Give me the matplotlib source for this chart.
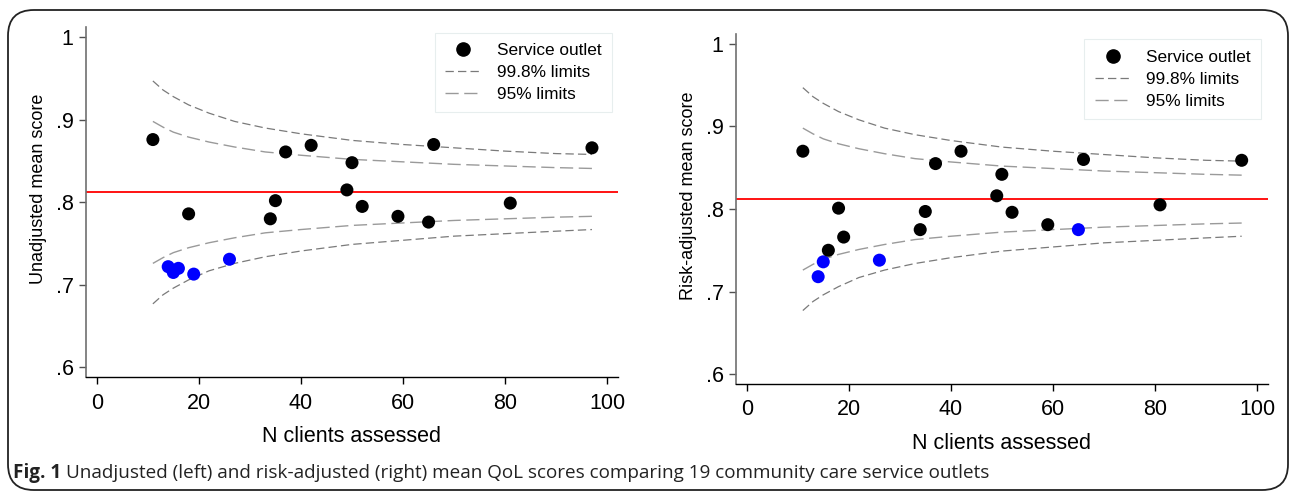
import matplotlib.pyplot as plt
from matplotlib.lines import Line2D
from matplotlib.patches import FancyBboxPatch

# outlets: number of clients assessed and mean QoL scores
n_clients = [11, 14, 15, 16, 18, 19, 26, 34, 35, 37, 42, 49, 50, 52, 59, 65, 66, 81, 97]
unadj_score = [0.876, 0.722, 0.715, 0.720, 0.786, 0.713, 0.731, 0.780, 0.802, 0.861,
               0.869, 0.815, 0.848, 0.795, 0.783, 0.776, 0.870, 0.799, 0.866]
unadj_flag = [0, 1, 1, 1, 0, 1, 1, 0, 0, 0, 0, 0, 0, 0, 0, 0, 0, 0, 0]
risk_score = [0.870, 0.718, 0.736, 0.750, 0.801, 0.766, 0.738, 0.775, 0.797, 0.855,
              0.870, 0.816, 0.842, 0.796, 0.781, 0.775, 0.860, 0.805, 0.859]
risk_flag = [0, 1, 1, 0, 0, 0, 1, 0, 0, 0, 0, 0, 0, 0, 0, 1, 0, 0, 0]
overall_mean = 0.812

# funnel limits
limit_n = [11, 13, 15, 18, 22, 27, 33, 40, 50, 60, 70, 80, 90, 97]
upper_998 = [0.947, 0.936, 0.928, 0.918, 0.908, 0.898, 0.890, 0.883, 0.875, 0.870, 0.866, 0.862, 0.859, 0.858]
lower_998 = [0.677, 0.688, 0.696, 0.706, 0.717, 0.726, 0.734, 0.741, 0.749, 0.754, 0.759, 0.762, 0.765, 0.767]
upper_95 = [0.898, 0.891, 0.885, 0.879, 0.873, 0.867, 0.861, 0.857, 0.852, 0.849, 0.846, 0.844, 0.842, 0.841]
lower_95 = [0.726, 0.733, 0.739, 0.745, 0.751, 0.757, 0.763, 0.767, 0.772, 0.775, 0.778, 0.780, 0.782, 0.783]

plt.rcParams['font.family'] = ['Liberation Sans', 'DejaVu Sans']
plt.rcParams['lines.scale_dashes'] = False

W, H = 1290, 492
fig = plt.figure(figsize=(W / 100, H / 100), dpi=100)

# rounded frame round the whole figure
frame = FancyBboxPatch((8 / W, 1 - 490 / H), (1288 - 8) / W, (490 - 10) / H,
                       boxstyle='round,pad=0,rounding_size=0.02', transform=fig.transFigure,
                       facecolor='none', edgecolor='#222222', linewidth=1.3,
                       mutation_aspect=W / H)
fig.patches.append(frame)


def px_axes(x0, y0, x1, y1):
    return fig.add_axes([x0 / W, 1 - y1 / H, (x1 - x0) / W, (y1 - y0) / H])


def draw_panel(ax, scores, flags, ylabel):
    c998 = '#7a7a7a'
    c95 = '#9a9a9a'
    d998 = (6, 3)
    d95 = (9.5, 4)
    ax.plot(limit_n, upper_998, color=c998, lw=0.9, dashes=d998)
    ax.plot(limit_n, lower_998, color=c998, lw=0.9, dashes=d998)
    ax.plot(limit_n, upper_95, color=c95, lw=1.0, dashes=d95)
    ax.plot(limit_n, lower_95, color=c95, lw=1.0, dashes=d95)
    ax.axhline(overall_mean, color='red', lw=1.3, zorder=2)
    colors = ['#0000ff' if f else 'black' for f in flags]
    ax.scatter(n_clients, scores, s=88, c=colors, linewidths=0, zorder=3)

    ax.set_xlim(-2.1, 102.1)
    ax.set_ylim(0.588, 1.012)
    ax.set_xticks([0, 20, 40, 60, 80, 100])
    ax.set_yticks([0.6, 0.7, 0.8, 0.9, 1.0])
    ax.set_yticklabels(['.6', '.7', '.8', '.9', '1'])
    for side in ['top', 'right']:
        ax.spines[side].set_visible(False)
    ax.spines['left'].set_color('#707070')
    ax.spines['left'].set_linewidth(1.2)
    ax.spines['bottom'].set_color('black')
    ax.spines['bottom'].set_linewidth(1.0)
    ax.tick_params(axis='y', length=5, width=1, color='#505050', labelsize=15.5, pad=4)
    ax.tick_params(axis='x', length=5, width=1, color='black', labelsize=15.5, pad=6)
    ax.set_xlabel('N clients assessed', fontsize=15.5, labelpad=9)
    ax.set_ylabel(ylabel, fontsize=13, va='center')
    ax.yaxis.set_label_coords(-0.090, 0.538)

    handles = [Line2D([], [], ls='none', marker='o', color='black', markersize=9.5),
               Line2D([], [], color=c998, lw=0.9, dashes=d998),
               Line2D([], [], color=c95, lw=1.0, dashes=d95)]
    leg = ax.legend(handles, ['Service outlet', '99.8% limits', '95% limits'],
                    loc='upper right', bbox_to_anchor=(0.988, 0.985), borderaxespad=0,
                    fontsize=12.4, frameon=True, fancybox=False, handlelength=2.1,
                    handletextpad=0.9, labelspacing=0.4, borderpad=0.6)
    leg.get_frame().set_edgecolor('#e2eaea')
    leg.get_frame().set_linewidth(0.8)


ax1 = px_axes(86, 27.3, 618, 377.3)
draw_panel(ax1, unadj_score, unadj_flag, 'Unadjusted mean score')
ax2 = px_axes(736, 34, 1267.7, 384)
draw_panel(ax2, risk_score, risk_flag, 'Risk-adjusted mean score')

# caption: bold figure number followed by the regular text
renderer = fig.canvas.get_renderer()
cap_y = 1 - 473 / H
t1 = fig.text(13 / W, cap_y, 'Fig. 1', fontsize=13.6, fontweight='bold',
              family=['Open Sans', 'DejaVu Sans'], va='center', color='#222222')
bb = t1.get_window_extent(renderer)
fig.text(bb.x1 / W + 5 / W, cap_y,
         'Unadjusted (left) and risk-adjusted (right) mean QoL scores comparing 19 community care service outlets',
         fontsize=13.6, family=['Open Sans', 'DejaVu Sans'], va='center', color='#222222')

fig.savefig('out.png', dpi=100)
